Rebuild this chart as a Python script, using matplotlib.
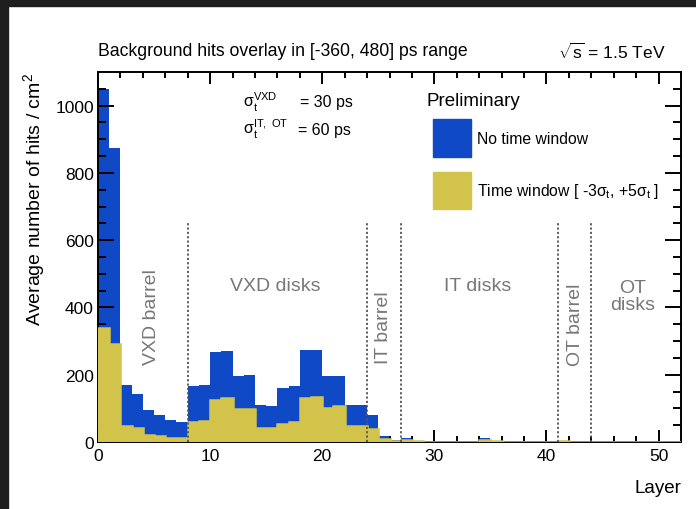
import numpy as np
import matplotlib.pyplot as plt
from matplotlib.patches import Rectangle

plt.rcParams['font.family'] = ['Liberation Sans', 'DejaVu Sans']
plt.rcParams['mathtext.fontset'] = 'custom'
plt.rcParams['mathtext.rm'] = 'Liberation Sans'
plt.rcParams['mathtext.it'] = 'Liberation Sans:italic'

# average hits / cm^2 per layer (bins of width 1, layers 0..51)
layers = np.arange(0, 53)
no_window = [1050, 875, 170, 143, 95, 80, 65, 60,
             167, 170, 268, 271, 196, 199, 110, 107, 161, 167, 274, 274, 196, 196, 110, 110,
             80, 18, 7, 12, 3, 1, 1, 1, 1, 1, 12, 3, 1, 1, 1, 1, 1, 3,
             1, 1, 1, 1, 1, 1, 1, 1, 1, 1]
time_window = [339, 292, 48, 42, 21, 18, 12, 12,
               60, 63, 125, 131, 98, 98, 42, 42, 54, 60, 131, 134, 101, 107, 48, 48,
               39, 9, 3, 6, 1.5, 0.5, 0.5, 0.5, 0.5, 0.5, 6, 1.5, 0.5, 0.5, 0.5, 0.5, 0.5, 1.5,
               0.5, 0.5, 0.5, 0.5, 0.5, 0.5, 0.5, 0.5, 0.5, 0.5]

boundaries = [8, 24, 27, 41, 44]
regions = ['VXD barrel', 'VXD disks', 'IT barrel', 'IT disks', 'OT barrel', 'OT\ndisks']
region_x = [4.8, 15.8, 25.5, 33.9, 42.6, 47.7]
region_y = [375, 464, 342, 464, 351, 435]
region_rot = [90, 0, 90, 0, 90, 0]

blue = '#1049c6'
yellow = '#d2c44a'
grey = '#777777'

fig = plt.figure(figsize=(6.96, 5.10), dpi=100)
# dark screenshot strip on the top and left
fig.patches.append(Rectangle((0, 1 - 7 / 510), 1, 7 / 510, transform=fig.transFigure,
                             color='#1e1e1e', zorder=-10))
fig.patches.append(Rectangle((0, 0), 8 / 696, 1, transform=fig.transFigure,
                             color='#1e1e1e', zorder=-10))

ax = fig.add_axes([98 / 696, 1 - 443 / 510, 583 / 696, 370 / 510])
ax.set_axisbelow(False)

ax.stairs(no_window, layers, fill=True, color=blue, zorder=2)
ax.stairs(time_window, layers, fill=True, color=yellow, zorder=3)
ax.stairs(time_window, layers, color=yellow, lw=1.8, zorder=3)

ax.vlines(boundaries, 0, 650, colors='#555555', linestyles=(0, (1.2, 1.2)), lw=1.3, zorder=4)

for name, x, y, rot in zip(regions, region_x, region_y, region_rot):
    ax.text(x, y, name, rotation=rot, ha='center', va='center', color=grey,
            fontsize=14, linespacing=1.0)

ax.set_xlim(0, 52)
ax.set_ylim(0, 1100)
ax.set_xticks([0, 10, 20, 30, 40, 50])
ax.set_xticks(np.arange(0, 52, 2), minor=True)
ax.set_yticks([0, 200, 400, 600, 800, 1000])
ax.set_yticks(np.arange(0, 1100, 50), minor=True)
ax.tick_params(which='both', direction='in', top=True, right=True, labelsize=12.5,
               width=1.4, color='black')
ax.tick_params(axis='x', which='major', length=8.5, pad=4)
ax.tick_params(axis='x', which='minor', length=4.3)
ax.tick_params(axis='y', which='major', length=11.5, pad=3)
ax.tick_params(axis='y', which='minor', length=5.8)
for s in ax.spines.values():
    s.set_linewidth(1.4)

ax.set_xlabel('Layer', fontsize=13.5, loc='right')
ax.xaxis.set_label_coords(1.0, -0.10)
ax.set_ylabel('Average number of hits / cm$^2$', fontsize=14)
ax.yaxis.set_label_coords(-0.088, 0.657)


def axpos(px, py):
    return (px - 98) / 583, (443 - py) / 370


ax.text(*axpos(98, 52), 'Background hits overlay in [-360, 480] ps range',
        transform=ax.transAxes, fontsize=12.7, ha='left', va='center', clip_on=False)
ax.text(*axpos(666, 52), r'$\sqrt{\mathrm{s}}$ = 1.5 TeV', transform=ax.transAxes,
        fontsize=12.5, ha='right', va='center', clip_on=False)

ax.text(*axpos(243, 102), r'$\mathregular{\sigma_t^{VXD}}$', transform=ax.transAxes,
        fontsize=11.5, ha='left', va='center')
ax.text(*axpos(300, 103), '= 30 ps', transform=ax.transAxes, fontsize=11.5,
        ha='left', va='center')
ax.text(*axpos(243, 129), r'$\mathregular{\sigma_t^{IT,\ OT}}$', transform=ax.transAxes,
        fontsize=11.5, ha='left', va='center')
ax.text(*axpos(298, 130), '= 60 ps', transform=ax.transAxes, fontsize=11.5,
        ha='left', va='center')

# legend
ax.text(*axpos(427, 102), 'Preliminary', transform=ax.transAxes, fontsize=13.5,
        ha='left', va='center')
for (py0, py1), col, lab in [((120, 158), blue, 'No time window'),
                             ((173, 210), yellow, r'Time window [ -3$\mathregular{\sigma_t}$, +5$\mathregular{\sigma_t}$ ]')]:
    x0, y0 = axpos(433, py1)
    x1, y1 = axpos(471, py0)
    ax.add_patch(Rectangle((x0, y0), x1 - x0, y1 - y0, transform=ax.transAxes,
                           color=col, zorder=6))
    ax.text(*axpos(477, (py0 + py1) / 2), lab, transform=ax.transAxes, fontsize=11.3,
            ha='left', va='center')

fig.savefig('out.png', dpi=100)
